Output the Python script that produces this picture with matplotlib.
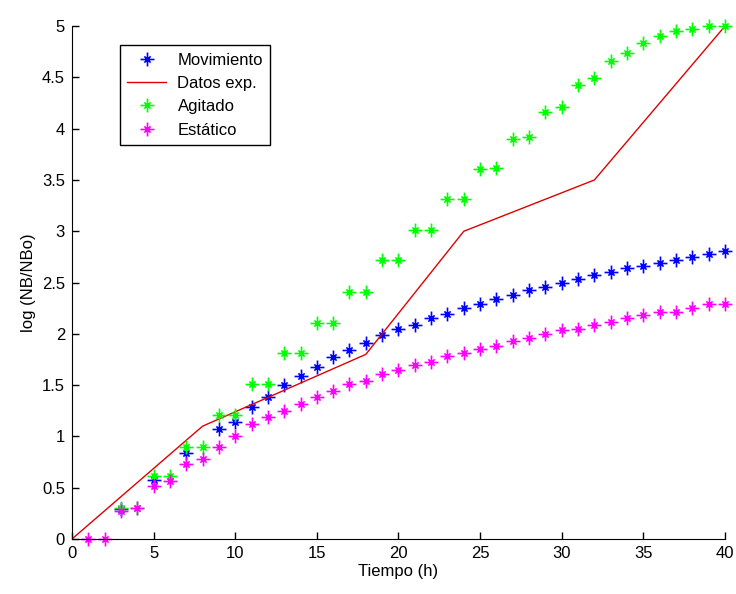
import os

os.environ.setdefault("MPLCONFIGDIR", "/tmp/matplotlib")

import matplotlib

matplotlib.use("Agg")
import matplotlib.pyplot as plt
from matplotlib.path import Path

# Movimiento (blue asterisks)
mov_t = [3, 5, 7, 9, 10, 11, 12, 13, 14, 15, 16, 17, 18, 19, 20, 21, 22, 23, 24,
         25, 26, 27, 28, 29, 30, 31, 32, 33, 34, 35, 36, 37, 38, 39, 40]
mov_y = [0.29, 0.58, 0.84, 1.07, 1.14, 1.29, 1.38, 1.50, 1.59, 1.68, 1.77, 1.84, 1.91,
         1.99, 2.05, 2.09, 2.15, 2.19, 2.25, 2.29, 2.34, 2.38, 2.43, 2.46, 2.50, 2.53,
         2.57, 2.60, 2.64, 2.66, 2.69, 2.72, 2.75, 2.78, 2.81]

# Datos exp. (red line)
exp_t = [0, 8, 18, 24, 32, 40]
exp_y = [0.0, 1.1, 1.8, 3.0, 3.5, 5.0]

# Agitado (green asterisks)
agi_t = [3, 4, 5, 6, 7, 8, 9, 10, 11, 12, 13, 14, 15, 16, 17, 18, 19, 20, 21, 22,
         23, 24, 25, 26, 27, 28, 29, 30, 31, 32, 33, 34, 35, 36, 37, 38, 39, 40]
agi_y = [0.30, 0.30, 0.61, 0.61, 0.90, 0.90, 1.21, 1.21, 1.51, 1.51, 1.81, 1.81,
         2.11, 2.11, 2.41, 2.41, 2.72, 2.72, 3.01, 3.01, 3.31, 3.31, 3.61, 3.62,
         3.90, 3.92, 4.16, 4.21, 4.43, 4.49, 4.66, 4.74, 4.84, 4.90, 4.95, 4.97,
         5.00, 5.00]

# Estatico (magenta asterisks)
est_t = list(range(1, 41))
est_y = [0.0, 0.0, 0.27, 0.30, 0.52, 0.57, 0.73, 0.78, 0.90, 1.00, 1.12, 1.19,
         1.25, 1.32, 1.38, 1.44, 1.51, 1.54, 1.61, 1.65, 1.70, 1.73, 1.78, 1.81,
         1.85, 1.88, 1.93, 1.96, 2.00, 2.04, 2.05, 2.09, 2.12, 2.15, 2.18, 2.21,
         2.21, 2.25, 2.29, 2.29]

plt.rcParams["font.family"] = ["Liberation Sans", "DejaVu Sans"]

# MATLAB-like asterisk: long plus arms, shorter diagonals
d = 0.45
ASTER = Path(
    [(-1, 0), (1, 0), (0, -1), (0, 1), (-d, -d), (d, d), (-d, d), (d, -d)],
    [Path.MOVETO, Path.LINETO] * 4,
)

fig = plt.figure(figsize=(7.36, 5.94), dpi=100)
ax = fig.add_axes([0.0978, 0.0926, 0.8872, 0.8634])

ms = dict(marker=ASTER, linestyle="none", markersize=10, markeredgewidth=1.2, clip_on=False)
ax.plot(mov_t, mov_y, color="#0000ff", label="Movimiento", **ms)
ax.plot(exp_t, exp_y, color="#e00000", linewidth=1.0, label="Datos exp.")
ax.plot(agi_t, agi_y, color="#00ff00", label="Agitado", **ms)
ax.plot(est_t, est_y, color="#ff00ff", label="Estático", **ms)

ax.set_xlim(0, 40)
ax.set_ylim(0, 5)
ax.set_xticks(range(0, 41, 5))
ax.set_yticks([i * 0.5 for i in range(11)])
ax.set_yticklabels(["0", "0.5", "1", "1.5", "2", "2.5", "3", "3.5", "4", "4.5", "5"])
ax.tick_params(direction="in", length=5, labelsize=12, width=1, pad=5)
ax.spines["top"].set_visible(False)
ax.spines["right"].set_visible(False)

ax.set_xlabel("Tiempo (h)", fontsize=12, labelpad=2)
ax.set_ylabel("log (NB/NBo)", fontsize=12, labelpad=4)

leg = ax.legend(loc="upper left", bbox_to_anchor=(0.0735, 0.963), borderaxespad=0,
                fontsize=12, frameon=True, fancybox=False, edgecolor="black",
                framealpha=1, handlelength=2.3, handletextpad=0.7, labelspacing=0.5,
                borderpad=0.45, numpoints=1)
leg.get_frame().set_linewidth(1.0)

fig.savefig("out.png", dpi=100)
